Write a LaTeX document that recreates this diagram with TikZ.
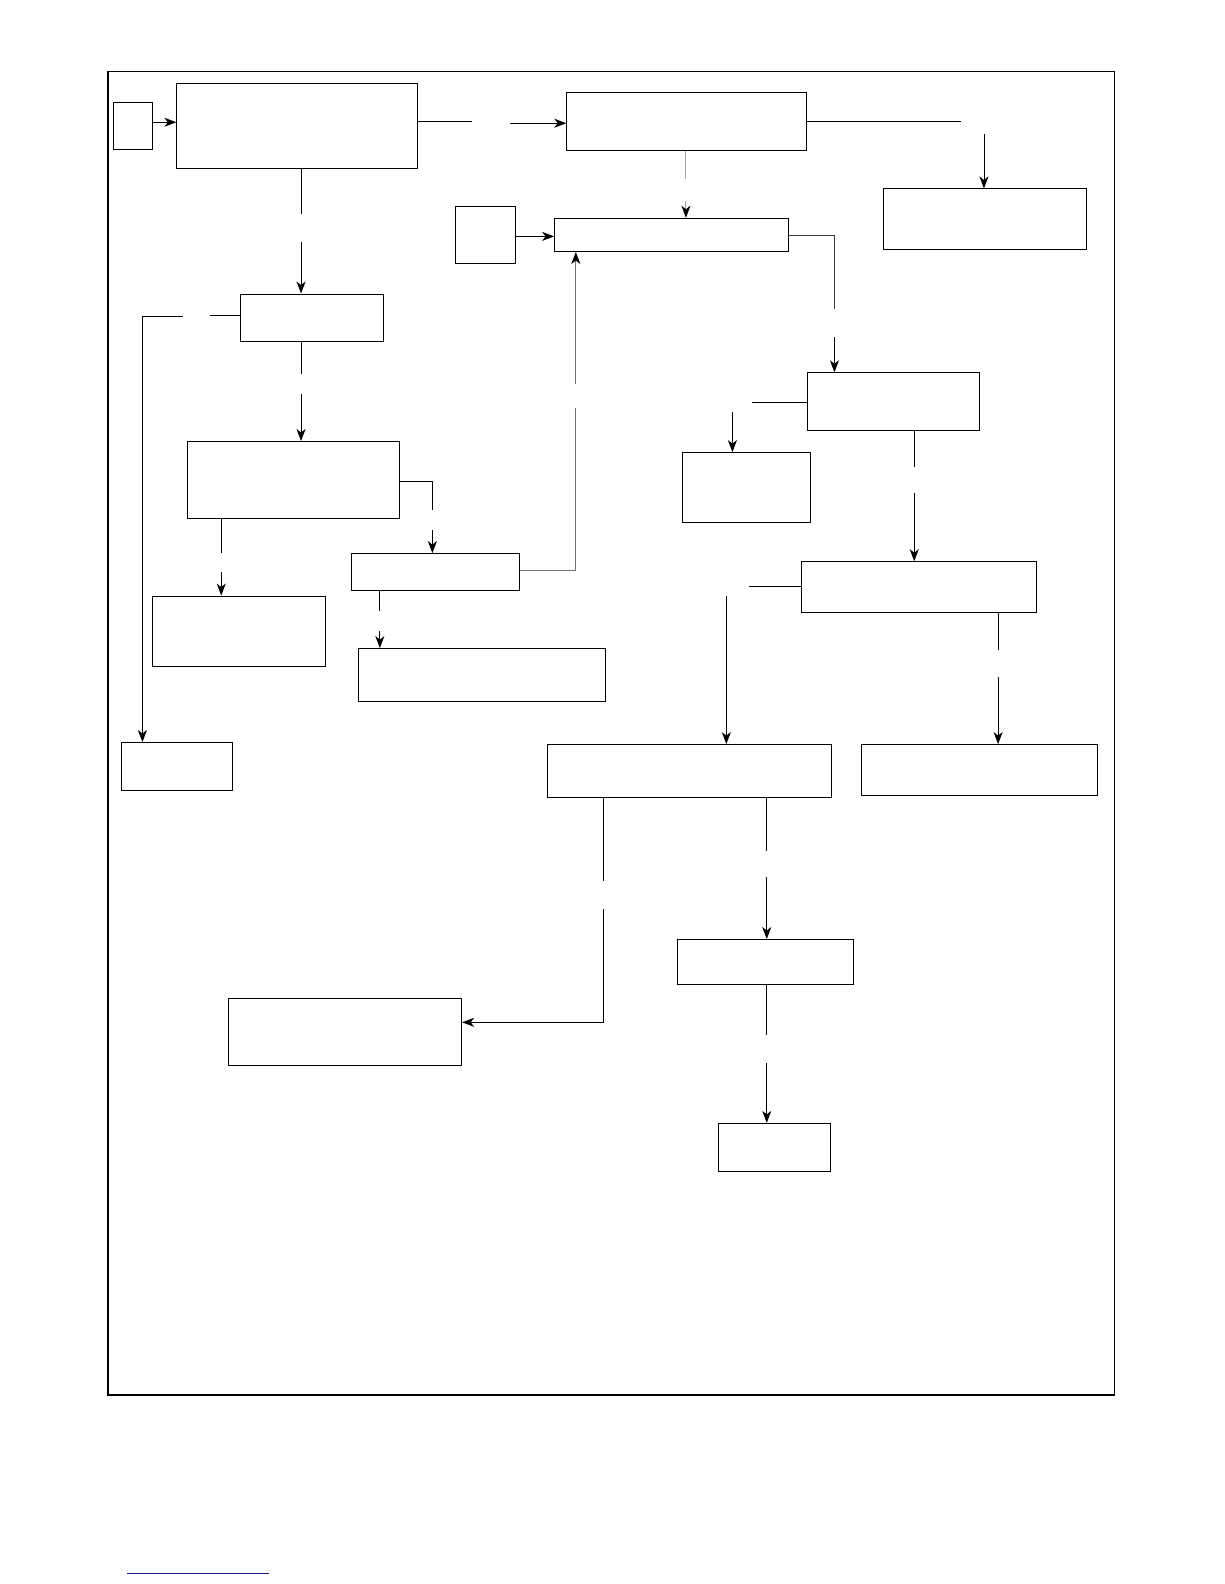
\documentclass[tikz,border=0pt]{standalone}
\usetikzlibrary{arrows.meta,fit}
\definecolor{linkblue}{RGB}{25,25,140}
\begin{document}
\begin{tikzpicture}[x=1.0099pt,y=-1.0099pt,
 box/.style={draw,line width=0.9pt,inner sep=0pt},
 conn/.style={line width=0.9pt},
 arr/.style={conn,-{Stealth[length=12pt,width=9pt,inset=3.5pt,color=black]}},
 grayconn/.style={conn,draw=black!55},
 midgray/.style={conn,draw=black!75}]
\useasboundingbox (0,0) rectangle (1212,1568);
\node[draw,line width=1.5pt,inner sep=0pt,fit={(107,71) (1103,1381)}] (frame) {};
% boxes
\node[box,fit={(112,101) (151,148)}] (A) {};
\node[box,fit={(175,83) (413,167)}] (B) {};
\node[box,fit={(561,92) (798,149)}] (C) {};
\node[box,fit={(875,187) (1075,247)}] (D) {};
\node[box,fit={(451,204) (510,261)}] (E) {};
\node[box,fit={(549,216) (780,249)}] (F) {};
\node[box,fit={(238,291) (380,338)}] (G) {};
\node[box,fit={(186,437) (395,513)}] (H) {};
\node[box,fit={(348,548) (514,584)}] (I) {};
\node[box,fit={(151,590) (322,660)}] (J) {};
\node[box,fit={(355,642) (599,694)}] (K) {};
\node[box,fit={(120,735) (230,782)}] (L) {};
\node[box,fit={(799,369) (970,426)}] (M) {};
\node[box,fit={(676,448) (802,517)}] (N) {};
\node[box,fit={(793,556) (1026,606)}] (O) {};
\node[box,fit={(542,737) (823,789)}] (P) {};
\node[box,fit={(853,737) (1086,787)}] (Q) {};
\node[box,fit={(671,930) (845,974)}] (R) {};
\node[box,fit={(226,988) (457,1055)}] (S) {};
\node[box,fit={(711,1112) (822,1160)}] (T) {};
% gap coordinates
\coordinate (bc1) at (467,120); \coordinate (bc2) at (505,122);
\coordinate (cd1) at (951,120); \coordinate (cd2) at (974,133);
\coordinate (cf1) at (679,177); \coordinate (cf2) at (679,199);
\coordinate (fm1) at (826,306); \coordinate (fm2) at (826,334);
\coordinate (if1) at (570,404); \coordinate (if2) at (570,380);
\coordinate (bg1) at (298,212); \coordinate (bg2) at (298,240);
\coordinate (gl1) at (208,312); \coordinate (gl2) at (181,313);
\coordinate (gh1) at (298,370); \coordinate (gh2) at (298,390);
\coordinate (hi1) at (428,505); \coordinate (hi2) at (428,525);
\coordinate (hj1) at (219,547); \coordinate (hj2) at (219,566);
\coordinate (ik1) at (376,605); \coordinate (ik2) at (376,625);
\coordinate (mn1) at (744,398); \coordinate (mn2) at (725,408);
\coordinate (mo1) at (905,462); \coordinate (mo2) at (905,488);
\coordinate (op1) at (741,581); \coordinate (op2) at (719,590);
\coordinate (oq1) at (988,643); \coordinate (oq2) at (988,670);
\coordinate (ps1) at (597,872); \coordinate (ps2) at (597,900);
\coordinate (pr1) at (759,842); \coordinate (pr2) at (759,868);
\coordinate (rt1) at (759,1025); \coordinate (rt2) at (759,1052);
% connectors
\draw[arr] (A.east |- 0,121) -- (B.west |- 0,121);
\draw[conn] (B.east |- bc1) -- (bc1);
\draw[arr] (bc2) -- (C.west |- bc2);
\draw[conn] (C.east |- cd1) -- (cd1);
\draw[arr] (cd2) -- (D.north -| cd2);
\draw[grayconn,draw=black!35] (C.south -| cf1) -- (cf1);
\draw[grayconn,draw=black!35,arr] (cf2) -- (F.north -| cf2);
\draw[arr] (E.east |- 0,234) -- (F.west |- 0,234);
\draw[midgray] (F.east |- 0,233) -| (fm1);
\draw[arr] (fm2) -- (M.north -| fm2);
\draw[grayconn] (I.east |- 0,565) -| (if1);
\draw[grayconn,arr] (if2) -- (F.south -| if2);
\draw[conn] (B.south -| bg1) -- (bg1);
\draw[arr] (bg2) -- (G.north -| bg2);
\draw[conn] (G.west |- gl1) -- (gl1);
\draw[arr] (gl2) -| (L.north -| 141,0);
\draw[conn] (G.south -| gh1) -- (gh1);
\draw[arr] (gh2) -- (H.north -| gh2);
\draw[conn] (H.east |- 0,477) -| (hi1);
\draw[arr] (hi2) -- (I.north -| hi2);
\draw[conn] (H.south -| hj1) -- (hj1);
\draw[arr] (hj2) -- (J.north -| hj2);
\draw[conn] (I.south -| ik1) -- (ik1);
\draw[arr] (ik2) -- (K.north -| ik2);
\draw[conn] (M.west |- mn1) -- (mn1);
\draw[arr] (mn2) -- (N.north -| mn2);
\draw[conn] (M.south -| mo1) -- (mo1);
\draw[arr] (mo2) -- (O.north -| mo2);
\draw[conn] (O.west |- op1) -- (op1);
\draw[arr] (op2) -- (P.north -| op2);
\draw[conn] (O.south -| oq1) -- (oq1);
\draw[arr] (oq2) -- (Q.north -| oq2);
\draw[conn] (P.south -| ps1) -- (ps1);
\draw[arr] (ps2) |- (S.east |- 0,1012);
\draw[conn] (P.south -| pr1) -- (pr1);
\draw[arr] (pr2) -- (R.north -| pr2);
\draw[conn] (R.south -| rt1) -- (rt1);
\draw[arr] (rt2) -- (T.north -| rt2);
% bottom link line
\coordinate (bl1) at (126,1558); \coordinate (bl2) at (266,1558);
\draw[line width=1pt,draw=linkblue] (bl1) -- (bl2);
\end{tikzpicture}
\end{document}
